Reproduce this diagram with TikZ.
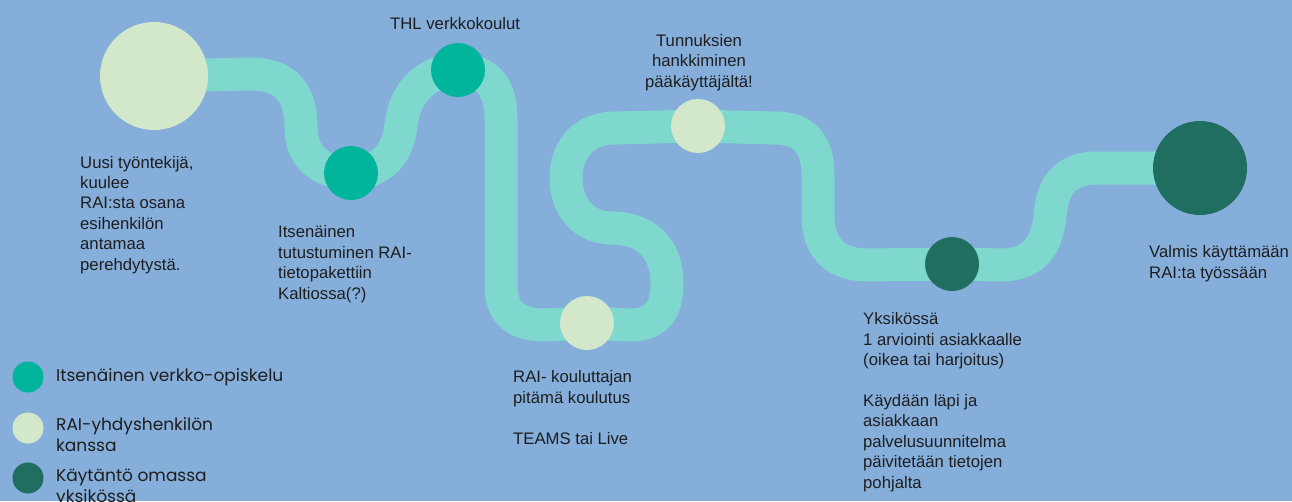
\documentclass[tikz,border=0pt]{standalone}
\usepackage{fontspec}
\setmainfont{Liberation Sans}
\newfontfamily\legendfont{Poppins}
\usepackage{xcolor}
\usetikzlibrary{positioning}
\definecolor{bgblue}{HTML}{85AEDB}
\definecolor{roadteal}{HTML}{7FD8CD}
\definecolor{stoplight}{HTML}{D3E8CB}
\definecolor{stopteal}{HTML}{00B59C}
\definecolor{stopdark}{HTML}{1F6E60}
\definecolor{inkblack}{HTML}{1E1E1E}
\pgfdeclarelayer{back}
\pgfdeclarelayer{road}
\pgfsetlayers{back,road,main}
\tikzset{
  stopnode/.style={circle,inner sep=0pt,minimum size=54pt},
  roadline/.style={draw=roadteal,line width=33pt,line cap=butt,line join=round},
  steptext/.style={inner sep=0pt,anchor=base west,align=left,font=\fontsize{16.7}{20.4}\selectfont,text=inkblack},
  legenddot/.style={circle,inner sep=0pt,minimum size=31pt},
  legendtext/.style={inner sep=0pt,anchor=base west,align=left,font=\legendfont\fontsize{17}{20.3}\selectfont,text=inkblack},
}
\begin{document}
\begin{tikzpicture}[x=1pt,y=-1pt]
  \useasboundingbox (0,0) rectangle (1292,501);
  \begin{pgfonlayer}{back}
    \fill[bgblue] (0,0) rectangle (1292,501);
  \end{pgfonlayer}
  \node[stopnode,fill=stoplight,minimum size=108pt] (s0) at (154,76) {};
  \node[stopnode,fill=stopteal] (s1) at (351,173) {};
  \node[stopnode,fill=stopteal] (s2) at (458,70) {};
  \node[stopnode,fill=stoplight] (s3) at (587,323) {};
  \node[stopnode,fill=stoplight] (s4) at (698,126) {};
  \node[stopnode,fill=stopdark] (s5) at (952,264) {};
  \node[stopnode,fill=stopdark,minimum size=94pt] (s6) at (1200,168) {};
  \begin{pgfonlayer}{road}
    \draw[roadline] (s0.center) -- (250,74) .. controls (288,74) and (301,95) .. (301,128)
      .. controls (301,158) and (322,173) .. (s1.center);
    \draw[roadline] (s1.center) .. controls (380,173) and (398,155) .. (401,125)
      .. controls (404,95) and (425,70) .. (s2.center);
    \draw[roadline] (s2.center) .. controls (488,70) and (501,88) .. (501,118) -- (501,285)
      .. controls (501,312) and (515,325) .. (545,325) -- (s3.center);
    \draw[roadline] (s3.center) -- (630,325) .. controls (657,325) and (667,310) .. (667,283)
      .. controls (667,248) and (645,228) .. (612,228) .. controls (585,228) and (566,208) .. (566,178)
      .. controls (566,148) and (585,128) .. (615,128) -- (s4.center);
    \draw[roadline] (s4.center) -- (775,128) .. controls (805,128) and (818,145) .. (818,175) -- (818,215)
      .. controls (818,248) and (835,265) .. (868,265) -- (s5.center);
    \draw[roadline] (s5.center) -- (1000,265) .. controls (1035,265) and (1047,245) .. (1050,215)
      .. controls (1053,185) and (1065,168) .. (1098,168) -- (s6.center);
  \end{pgfonlayer}
  \node[steptext] (t0) at (80,270) {Uusi työntekijä,\\kuulee\\RAI:sta osana\\esihenkilön\\antamaa\\perehdytystä.};
  \node[steptext] (t1) at (278,299) {Itsenäinen\\tutustuminen RAI-\\tietopakettiin\\Kaltiossa(?)};
  \node[steptext] (t2) at (390,29) {THL verkkokoulut};
  \node[steptext,anchor=base,align=center] (t4) at (699,87) {Tunnuksien\\hankkiminen\\pääkäyttäjältä!};
  \node[steptext] (t3) at (513,444) {RAI- kouluttajan\\pitämä koulutus\\[20.4pt]TEAMS tai Live};
  \node[steptext] (t5) at (863,488) {Yksikössä\\1 arviointi asiakkaalle\\(oikea tai harjoitus)\\[20.4pt]Käydään läpi ja\\asiakkaan\\palvelusuunnitelma\\päivitetään tietojen\\pohjalta};
  \node[steptext] (t6) at (1149,278) {Valmis käyttämään\\RAI:ta työssään};
  \node[legenddot,fill=stopteal] (l1) at (28,377) {};
  \node[legenddot,fill=stoplight] (l2) at (28,428) {};
  \node[legenddot,fill=stopdark] (l3) at (28,478) {};
  \node[legendtext] (k1) at (56,381) {Itsenäinen verkko-opiskelu};
  \node[legendtext] (k2) at (56,451) {RAI-yhdyshenkilön\\kanssa};
  \node[legendtext] (k3) at (56,502) {Käytäntö omassa\\yksikössä};
\end{tikzpicture}
\end{document}
